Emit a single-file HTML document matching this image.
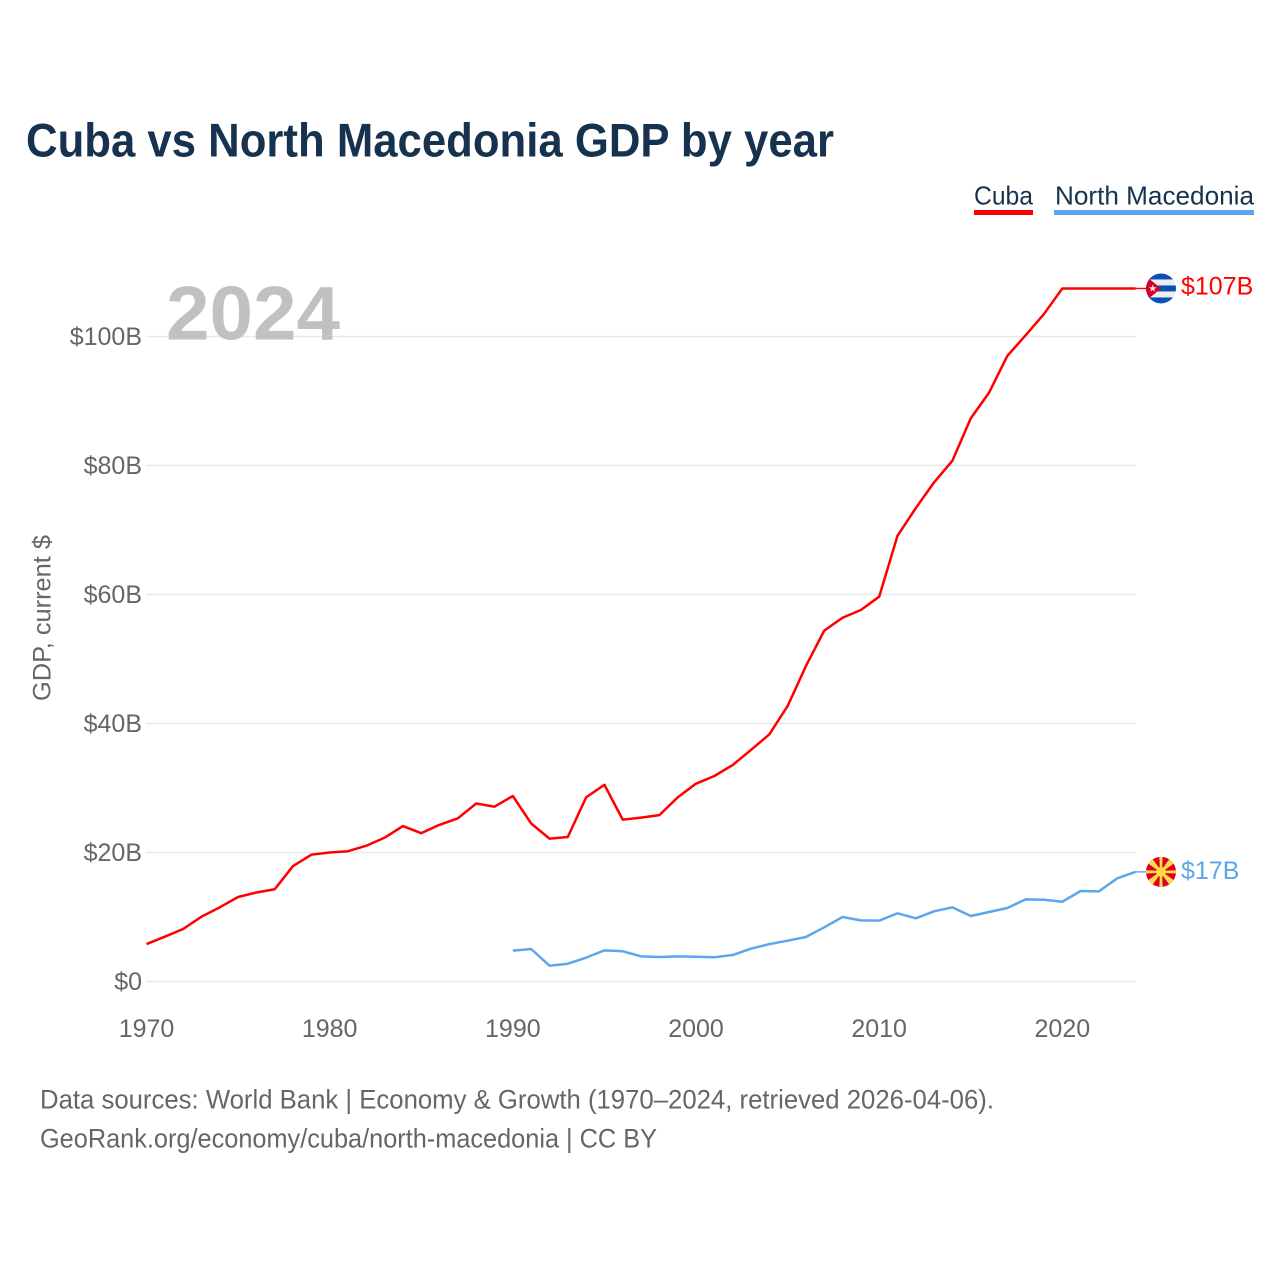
<!DOCTYPE html>
<html lang="en">
<head>
<meta charset="utf-8">
<title>Cuba vs North Macedonia GDP by year</title>
<style>
html,body{margin:0;padding:0;background:#fff;width:1280px;height:1280px;overflow:hidden}
svg{display:block}
text{font-family:"Liberation Sans",sans-serif}
.tick{font-size:25px;fill:#666}
</style>
</head>
<body>
<svg id="chart" xmlns="http://www.w3.org/2000/svg" width="1280" height="1280" viewBox="0 0 1280 1280">
  <defs>
    <clipPath id="flag-clip"><circle cx="0" cy="0" r="15"></circle></clipPath>
  </defs>
  <rect width="1280" height="1280" fill="#fff"></rect>
  <text x="26" y="156.5" font-size="47" font-weight="700" fill="#17324f" textLength="808" lengthAdjust="spacingAndGlyphs">Cuba vs North Macedonia GDP by year</text>

  <g>
    <text x="974" y="204.5" font-size="26" fill="#17324f" textLength="59" lengthAdjust="spacingAndGlyphs">Cuba</text>
    <rect x="974" y="210" width="59" height="5" fill="#ff0000"></rect>
  </g>
  <g>
    <text x="1055" y="204.5" font-size="26" fill="#17324f" textLength="199" lengthAdjust="spacingAndGlyphs">North Macedonia</text>
    <rect x="1054" y="210" width="200" height="5" fill="#5ea6ec"></rect>
  </g>

  <text transform="translate(50.5,701) rotate(-90)" font-size="25" fill="#666" textLength="166" lengthAdjust="spacingAndGlyphs">GDP, current $</text>

  <g id="grid"></g>
  <g id="y-ticks"></g>
  <g id="x-ticks"></g>

  <text x="166" y="339.5" font-size="76" font-weight="700" fill="#c1c1c1" textLength="174" lengthAdjust="spacingAndGlyphs">2024</text>

  <g id="series"></g>

  <g id="flag-cuba">
    <g clip-path="url(#flag-clip)">
      <rect x="-15" y="-15" width="30" height="30" fill="#eeeeee"></rect>
      <rect x="-15" y="-15" width="30" height="6" fill="#0b50b5"></rect>
      <rect x="-15" y="-3" width="30" height="6" fill="#0b50b5"></rect>
      <rect x="-15" y="9" width="30" height="6" fill="#0b50b5"></rect>
      <polygon points="-17,-14 -17,14 0,0" fill="#d80027"></polygon>
      <polygon points="-8.3,-3.8 -7.3,-1.2 -4.5,-1.2 -6.7,0.5 -5.9,3.2 -8.3,1.6 -10.7,3.2 -9.9,0.5 -12.1,-1.2 -9.3,-1.2" fill="#eeeeee"></polygon>
    </g>
  </g>

  <g id="flag-mk">
    <g clip-path="url(#flag-clip)">
      <rect x="-15" y="-15" width="30" height="30" fill="#d80027"></rect>
      <polygon points="-1,0 1,0 1.7,-16 -1.7,-16" fill="#ffda44"></polygon>
      <polygon points="-1,0 1,0 1.7,-16 -1.7,-16" fill="#ffda44" transform="rotate(90)"></polygon>
      <polygon points="-1,0 1,0 1.7,-16 -1.7,-16" fill="#ffda44" transform="rotate(180)"></polygon>
      <polygon points="-1,0 1,0 1.7,-16 -1.7,-16" fill="#ffda44" transform="rotate(270)"></polygon>
      <polygon points="-0.8,0 0.8,0 3.6,-18 -3.6,-18" fill="#ffda44" transform="rotate(45)"></polygon>
      <polygon points="-0.8,0 0.8,0 3.6,-18 -3.6,-18" fill="#ffda44" transform="rotate(135)"></polygon>
      <polygon points="-0.8,0 0.8,0 3.6,-18 -3.6,-18" fill="#ffda44" transform="rotate(225)"></polygon>
      <polygon points="-0.8,0 0.8,0 3.6,-18 -3.6,-18" fill="#ffda44" transform="rotate(315)"></polygon>
      <circle r="4.8" fill="#ffda44"></circle>
    </g>
  </g>

  <text id="label-cuba" x="1181" font-size="25" fill="#ff0000"></text>
  <text id="label-mk" x="1181" font-size="25" fill="#5ea6ec"></text>

  <text x="40" y="1108.5" font-size="27" fill="#666" textLength="954" lengthAdjust="spacingAndGlyphs">Data sources: World Bank | Economy &amp; Growth (1970–2024, retrieved 2026-04-06).</text>
  <text x="40" y="1147.5" font-size="27" fill="#666" textLength="617" lengthAdjust="spacingAndGlyphs">GeoRank.org/economy/cuba/north-macedonia | CC BY</text>
</svg>
<script>
const cubaYears = [1970,1971,1972,1973,1974,1975,1976,1977,1978,1979,1980,1981,1982,1983,1984,1985,1986,1987,1988,1989,1990,1991,1992,1993,1994,1995,1996,1997,1998,1999,2000,2001,2002,2003,2004,2005,2006,2007,2008,2009,2010,2011,2012,2013,2014,2015,2016,2017,2018,2019,2020,2021,2022,2023,2024];
const cubaValues = [5.8,6.95,8.14,10.05,11.5,13.1,13.8,14.3,17.9,19.66,20,20.2,21.05,22.3,24.1,23,24.3,25.3,27.6,27.1,28.76,24.5,22.15,22.4,28.55,30.5,25.1,25.4,25.8,28.55,30.67,31.86,33.56,35.9,38.3,42.7,48.9,54.4,56.4,57.6,59.66,69.1,73.4,77.4,80.75,87.3,91.3,97,100.2,103.5,107.45,107.45,107.45,107.45,107.45];
const mkYears = [1990,1991,1992,1993,1994,1995,1996,1997,1998,1999,2000,2001,2002,2003,2004,2005,2006,2007,2008,2009,2010,2011,2012,2013,2014,2015,2016,2017,2018,2019,2020,2021,2022,2023,2024];
const mkValues = [4.78,5.04,2.45,2.76,3.7,4.83,4.68,3.9,3.8,3.9,3.83,3.75,4.1,5.09,5.8,6.33,6.9,8.4,10,9.48,9.43,10.57,9.8,10.88,11.5,10.15,10.77,11.4,12.74,12.68,12.37,14.03,13.98,16,17];
const yTickValues = [0,20,40,60,80,100];
const xTickValues = [1970,1980,1990,2000,2010,2020];

const NS = 'http://www.w3.org/2000/svg';
function xScale(year){ return 146.5 + (year - 1970) * (1135.6 - 146.5) / 54; }
function yScale(v){ return 981.5 - v * 6.45; }
function make(tag, parent){
  const el = document.createElementNS(NS, tag);
  parent.appendChild(el);
  return el;
}

const grid = document.getElementById('grid');
const yTicks = document.getElementById('y-ticks');
yTickValues.forEach(function(v){
  const line = make('line', grid);
  
  
  line.setAttribute('x1', xScale(1970));
  line.setAttribute('x2', 1136);
  line.setAttribute('y1', yScale(v));
  line.setAttribute('y2', yScale(v));
  line.setAttribute('stroke', '#e9e9e9');
  line.setAttribute('stroke-width', '1.5');
  const t = make('text', yTicks);
  
  
  t.setAttribute('class', 'tick');
  t.setAttribute('x', 142);
  t.setAttribute('y', yScale(v) + 8.5);
  t.setAttribute('text-anchor', 'end');
  t.textContent = v === 0 ? '$0' : '$' + v + 'B';
});

const xTicks = document.getElementById('x-ticks');
xTickValues.forEach(function(year){
  const t = make('text', xTicks);
  
  
  t.setAttribute('class', 'tick');
  t.setAttribute('x', xScale(year));
  t.setAttribute('y', 1037);
  t.setAttribute('text-anchor', 'middle');
  t.textContent = year;
});

function pathFor(years, values){
  return years.map(function(y, i){
    return (i ? 'L' : 'M') + xScale(y).toFixed(2) + ' ' + yScale(values[i]).toFixed(2);
  }).join(' ');
}

const seriesGroup = document.getElementById('series');

const cubaLine = make('path', seriesGroup);


cubaLine.setAttribute('d', pathFor(cubaYears, cubaValues));
cubaLine.setAttribute('fill', 'none');
cubaLine.setAttribute('stroke', '#ff0000');
cubaLine.setAttribute('stroke-width', '2.5');
cubaLine.setAttribute('stroke-linejoin', 'round');

const mkLine = make('path', seriesGroup);


mkLine.setAttribute('d', pathFor(mkYears, mkValues));
mkLine.setAttribute('fill', 'none');
mkLine.setAttribute('stroke', '#5ea6ec');
mkLine.setAttribute('stroke-width', '2.5');
mkLine.setAttribute('stroke-linejoin', 'round');

const cubaLast = cubaValues[cubaValues.length - 1];
const mkLast = mkValues[mkValues.length - 1];

const cubaLead = make('line', seriesGroup);


cubaLead.setAttribute('x1', xScale(2024));
cubaLead.setAttribute('x2', 1150);
cubaLead.setAttribute('y1', yScale(cubaLast));
cubaLead.setAttribute('y2', yScale(cubaLast));
cubaLead.setAttribute('stroke', '#ff0000');
cubaLead.setAttribute('stroke-width', '1.4');

const mkLead = make('line', seriesGroup);


mkLead.setAttribute('x1', xScale(2024));
mkLead.setAttribute('x2', 1150);
mkLead.setAttribute('y1', yScale(mkLast));
mkLead.setAttribute('y2', yScale(mkLast));
mkLead.setAttribute('stroke', '#5ea6ec');
mkLead.setAttribute('stroke-width', '1.4');

document.getElementById('flag-cuba').setAttribute('transform', 'translate(1161,' + yScale(cubaLast) + ')');
document.getElementById('flag-mk').setAttribute('transform', 'translate(1161,' + yScale(mkLast) + ')');

const labelCuba = document.getElementById('label-cuba');
labelCuba.setAttribute('y', yScale(cubaLast) + 6);
labelCuba.textContent = '$' + Math.round(cubaLast) + 'B';
const labelMk = document.getElementById('label-mk');
labelMk.setAttribute('y', yScale(mkLast) + 7);
labelMk.textContent = '$' + Math.round(mkLast) + 'B';
</script>
</body>
</html>
